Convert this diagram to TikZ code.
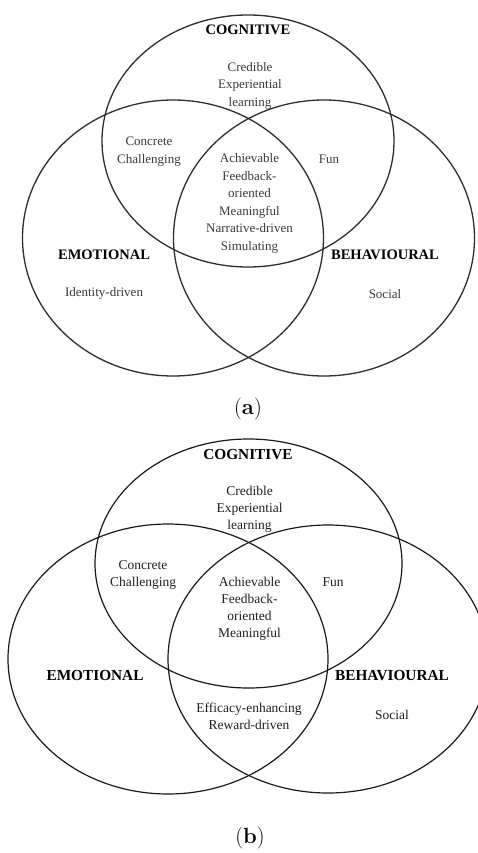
\documentclass[tikz,border=0pt]{standalone}
\usepackage{fontspec}
\newfontfamily\tnr{Liberation Serif}
\definecolor{lineA}{HTML}{2E2E2E}
\definecolor{lineB}{HTML}{1A1A1A}
\definecolor{txtA}{HTML}{3A3A3A}
\definecolor{txtB}{HTML}{202020}
\begin{document}
\begin{tikzpicture}[x=1pt,y=-1pt,
  ellA/.style={line width=1.3pt, draw=lineA},
  ellB/.style={line width=1.2pt, draw=lineB},
  txtAstyle/.style={font=\tnr\fontsize{13pt}{17.5pt}\selectfont, align=center, inner sep=0pt, text=txtA},
  headA/.style={font=\tnr\bfseries\fontsize{14.5pt}{17pt}\selectfont, inner sep=0pt, text=black},
  txtBstyle/.style={font=\tnr\fontsize{13.5pt}{17pt}\selectfont, align=center, inner sep=0pt, text=txtB},
  headB/.style={font=\tnr\bfseries\fontsize{15.3pt}{17pt}\selectfont, inner sep=0pt, text=black},
  captionstyle/.style={font=\fontsize{22pt}{24pt}\selectfont, inner sep=0pt, text=black}
]
\useasboundingbox (0,0) rectangle (478,853);
\clip (0,0) rectangle (478,853);
\fill[white] (0,0) rectangle (478,853);

% ---------- (a) ----------
\draw[ellA] (248,141) ellipse [x radius=146pt, y radius=126pt];
\draw[ellA] (173,238) ellipse [x radius=150.5pt, y radius=138pt];
\draw[ellA] (324,238) ellipse [x radius=150.5pt, y radius=138pt];

\node[headA] (aCog) at (248,30) {COGNITIVE};
\node[txtAstyle] (aCred) at (250,85.5) {Credible\\Experiential\\learning};
\node[txtAstyle] (aConc) at (149,151.5) {Concrete\\Challenging};
\node[txtAstyle] (aCent) at (249.5,203.5) {Achievable\\Feedback-\\oriented\\Meaningful\\Narrative-driven\\Simulating};
\node[txtAstyle] (aFun) at (329,159) {Fun};
\node[headA] (aEmo) at (104,255) {EMOTIONAL};
\node[txtAstyle] (aIden) at (104,293) {Identity-driven};
\node[headA] (aBeh) at (385,255) {BEHAVIOURAL};
\node[txtAstyle] (aSoc) at (385,294) {Social};
\node[captionstyle] (aCap) at (248,409) {(\textbf{a})};

% ---------- (b) ----------
\draw[ellB] (248.5,563.5) ellipse [x radius=153.5pt, y radius=124.5pt];
\draw[ellB] (168,659) ellipse [x radius=160pt, y radius=135pt];
\draw[ellB] (328,659) ellipse [x radius=160pt, y radius=134pt];

\node[headB] (bCog) at (248,455) {COGNITIVE};
\node[txtBstyle] (bCred) at (249.5,509.5) {Credible\\Experiential\\learning};
\node[txtBstyle] (bConc) at (143,574.5) {Concrete\\Challenging};
\node[txtBstyle] (bCent) at (249.5,608.5) {Achievable\\Feedback-\\oriented\\Meaningful};
\node[txtBstyle] (bFun) at (333,582) {Fun};
\node[headB] (bEmo) at (95,676) {EMOTIONAL};
\node[headB] (bBeh) at (392,676) {BEHAVIOURAL};
\node[txtBstyle] (bEff) at (249,716.5) {Efficacy-enhancing\\Reward-driven};
\node[txtBstyle] (bSoc) at (392,715) {Social};
\node[captionstyle] (bCap) at (250,838) {(\textbf{b})};
\end{tikzpicture}
\end{document}
